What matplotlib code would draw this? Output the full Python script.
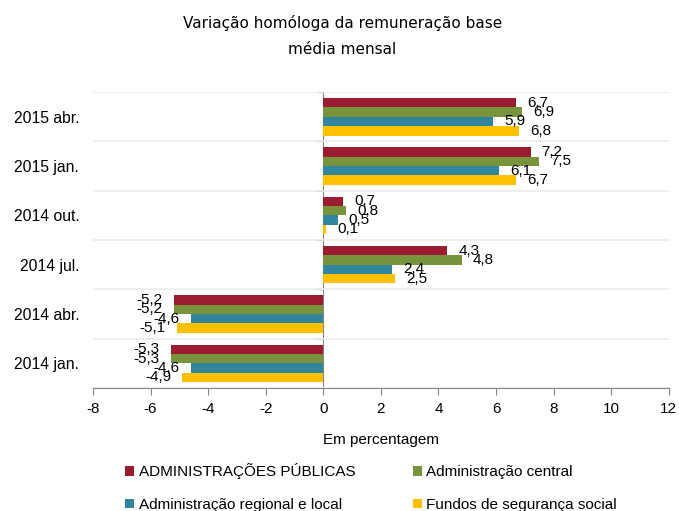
import numpy as np
import matplotlib.pyplot as plt

# dados (de cima para baixo)
categorias = ["2015 abr.", "2015 jan.", "2014 out.", "2014 jul.", "2014 abr.", "2014 jan."]
series = ["ADMINISTRAÇÕES PÚBLICAS", "Administração central",
          "Administração regional e local", "Fundos de segurança social"]
adm_publicas = [6.7, 7.2, 0.7, 4.3, -5.2, -5.3]
adm_central = [6.9, 7.5, 0.8, 4.8, -5.2, -5.3]
adm_regional = [5.9, 6.1, 0.5, 2.4, -4.6, -4.6]
fundos_ss = [6.8, 6.7, 0.1, 2.5, -5.1, -4.9]
cores = ["#9B1B30", "#77933C", "#31859C", "#FFC000"]
xticks = [-8, -6, -4, -2, 0, 2, 4, 6, 8, 10, 12]

plt.rcParams['font.family'] = ['Liberation Sans', 'DejaVu Sans']

fig = plt.figure(figsize=(6.79, 5.11), dpi=100)
ax = fig.add_axes([0.137, 0.2407, 0.848, 0.579])

n = len(categorias)
y = np.arange(n)
h = 0.19
valores = [adm_publicas, adm_central, adm_regional, fundos_ss]
handles = []
for i, (vals, cor, nome) in enumerate(zip(valores, cores, series)):
    pos = y + (i - 1.5) * h
    bars = ax.barh(pos, vals, height=h, color=cor, label=nome, zorder=3)
    handles.append(bars)
    for b, v in zip(bars, vals):
        yc = b.get_y() + b.get_height() / 2
        txt = f"{v:.1f}".replace(".", ",")
        if v >= 0:
            ax.annotate(txt, (v, yc), xytext=(8, 0), textcoords="offset points",
                        ha="left", va="center", fontsize=11, zorder=4)
        else:
            ax.annotate(txt, (v, yc), xytext=(-8, 0), textcoords="offset points",
                        ha="right", va="center", fontsize=11, zorder=4)

ax.set_xlim(-8, 12)
ax.set_ylim(n - 0.5, -0.5)
ax.set_xticks(xticks)
ax.set_xticklabels([str(t) for t in xticks], fontsize=11)
ax.set_yticks(y)
ax.set_yticklabels(categorias, fontsize=11.3)
ax.tick_params(axis="y", length=0, pad=10)
ax.tick_params(axis="x", length=5, color="#868686", pad=5)
ax.set_yticks(np.arange(n + 1) - 0.5, minor=True)
ax.tick_params(axis="y", which="minor", length=0)
ax.grid(axis="y", which="minor", color="#EBEBEB", linewidth=1.2, zorder=0)

for s in ["top", "right", "left"]:
    ax.spines[s].set_visible(False)
ax.spines["bottom"].set_color("#868686")

# eixo vertical em x = 0
sec = ax.secondary_yaxis(0.4)
sec.set_yticks(np.arange(n + 1) - 0.5)
sec.set_yticklabels([])
sec.tick_params(length=4, color="#868686")
sec.spines["left"].set_color("#868686")

ax.set_xlabel("Em percentagem", fontsize=11, labelpad=12)

fig.text(0.504, 0.97, "Variação homóloga da remuneração base\nmédia mensal",
         ha="center", va="top", fontsize=11, family="DejaVu Sans", linespacing=1.85)

ordem = [0, 2, 1, 3]
fig.legend([handles[k] for k in ordem], [series[k] for k in ordem],
           loc="upper left", bbox_to_anchor=(0.175, 0.105), ncol=2, frameon=False,
           fontsize=11, handlelength=0.6, handleheight=0.6, handletextpad=0.3,
           columnspacing=3.75, labelspacing=1.2, borderaxespad=0)

fig.savefig("out.png", dpi=100)
